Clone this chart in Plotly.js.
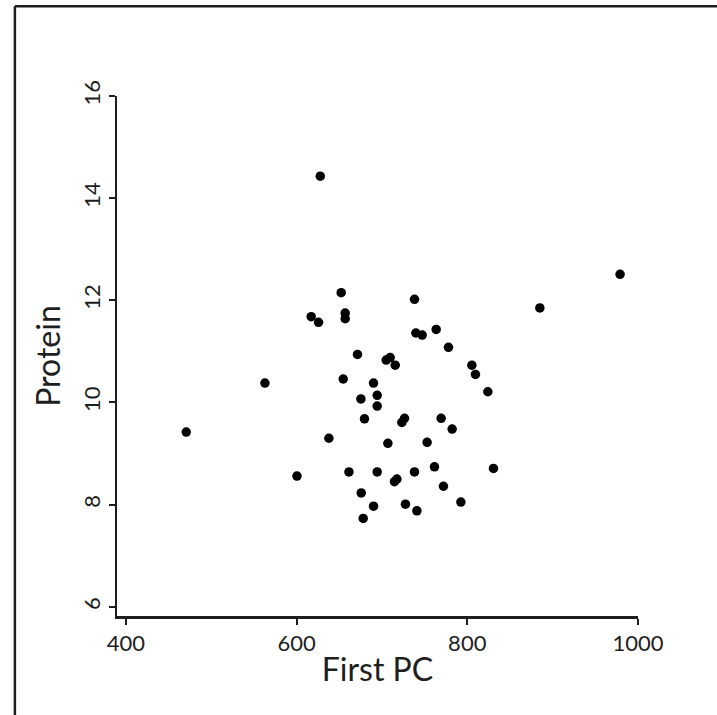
<!DOCTYPE html>
<html>
<head>
<meta charset="utf-8">
<script src="https://cdn.plot.ly/plotly-3.0.1.min.js"></script>
<style>
  html, body { margin: 0; padding: 0; background: #fff; }
  #chart { width: 717px; height: 715px; }
</style>
</head>
<body>
<div id="chart"></div>
<script>
// First principal component score vs. protein
const firstPC = [
  470.8, 563.0, 600.5, 627.8, 617.2, 625.8, 652.3, 657.0, 657.0, 738.2,
  739.8, 747.2, 763.6, 778.0, 671.4, 705.0, 709.7, 715.6, 805.4, 809.6,
  824.1, 654.7, 690.2, 675.4, 694.5, 694.5, 679.6, 726.5, 723.4, 769.4,
  782.3, 637.9, 707.0, 753.0, 661.4, 694.5, 738.2, 761.6, 830.7, 717.6,
  714.8, 772.1, 675.8, 690.2, 727.6, 741.0, 792.5, 678.1, 885.0, 979.0
];
const protein = [
  9.42, 10.38, 8.56, 14.43, 11.68, 11.57, 12.15, 11.75, 11.64, 12.02,
  11.36, 11.32, 11.43, 11.08, 10.94, 10.83, 10.88, 10.73, 10.73, 10.55,
  10.21, 10.46, 10.38, 10.07, 10.14, 9.93, 9.68, 9.69, 9.61, 9.69,
  9.48, 9.30, 9.20, 9.22, 8.64, 8.64, 8.64, 8.74, 8.71, 8.50,
  8.45, 8.36, 8.23, 7.97, 8.01, 7.88, 8.05, 7.73, 11.85, 12.51
];
const xTicks = [400, 600, 800, 1000];
const yTicks = [6, 8, 10, 12, 14, 16];

const FONT = 'Lato, "Open Sans", sans-serif';
const INK = '#1e1e1e';

const trace = {
  type: 'scatter',
  mode: 'markers',
  x: firstPC,
  y: protein,
  marker: { color: '#000', size: 9.5, line: { width: 0 } },
  hoverinfo: 'x+y'
};

const layout = {
  width: 717,
  height: 715,
  margin: { l: 117, r: 79, t: 96, b: 99, pad: 0 },
  paper_bgcolor: '#fff',
  plot_bgcolor: '#fff',
  showlegend: false,
  font: { family: FONT, color: INK },
  xaxis: {
    range: [389.7, 1000],
    tickvals: xTicks,
    ticktext: xTicks.map(String),
    showgrid: false,
    zeroline: false,
    showline: true,
    linecolor: INK,
    linewidth: 2.5,
    ticks: 'outside',
    ticklen: 6,
    tickwidth: 2,
    tickcolor: INK,
    tickfont: { family: FONT, size: 22, color: INK },
    title: { text: 'First PC', font: { family: FONT, size: 32, color: INK }, standoff: 4 },
    automargin: false,
    fixedrange: true
  },
  yaxis: {
    range: [5.82, 16],
    tickvals: yTicks,
    ticktext: yTicks.map(String),
    tickangle: -90,
    showgrid: false,
    zeroline: false,
    showline: true,
    linecolor: INK,
    linewidth: 2.5,
    ticks: 'outside',
    ticklen: 6,
    tickwidth: 2,
    tickcolor: INK,
    tickfont: { family: FONT, size: 22, color: INK },
    title: { text: 'Protein', font: { family: FONT, size: 32, color: INK }, standoff: 8 },
    automargin: false,
    fixedrange: true
  },
  shapes: [
    { type: 'line', xref: 'paper', yref: 'paper', x0: -0.196, x1: -0.196, y0: -0.2, y1: 1.1724,
      line: { color: INK, width: 2.5 } },
    { type: 'line', xref: 'paper', yref: 'paper', x0: -0.196, x1: 1.2, y0: 1.1724, y1: 1.1724,
      line: { color: INK, width: 2.5 } }
  ]
};

Plotly.newPlot('chart', [trace], layout, { displayModeBar: false, staticPlot: true });
</script>
</body>
</html>
